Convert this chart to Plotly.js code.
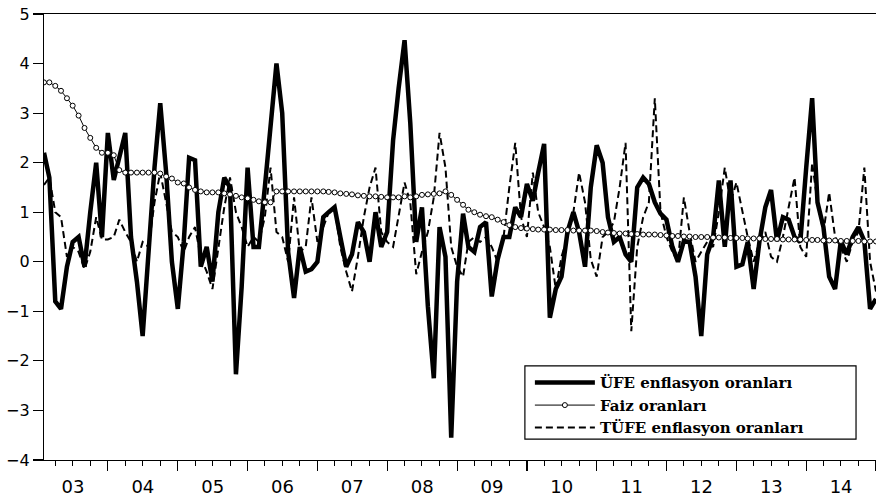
<!DOCTYPE html>
<html>
<head>
<meta charset="utf-8">
<script src="https://cdn.plot.ly/plotly-3.0.1.min.js"></script>
<style>html,body{margin:0;padding:0;background:#fff;}#chart{width:876px;height:499px;}</style>
</head>
<body>
<div id="chart"></div>
<script>
// Monthly observations, first month 2003-02
var startYear = 2003, startMonth = 2;
var seriesNames = ["ÜFE enflasyon oranları", "Faiz oranları", "TÜFE enflasyon oranları"];
var yearLabels = ["03","04","05","06","07","08","09","10","11","12","13","14"];

var ufe = [
 2.2, 1.7, -0.8, -0.95, -0.1, 0.4, 0.5, -0.1, 1.0, 2.0, 0.5,
 2.6, 1.65, 2.1, 2.6, 0.5, -0.4, -1.5, 0.3, 1.9, 3.2, 1.8, 0.0,
 -0.95, 0.4, 2.1, 2.05, -0.1, 0.3, -0.4, 1.0, 1.7, 1.5, -2.27, -0.5,
 1.9, 0.3, 0.3, 1.5, 2.7, 4.0, 3.0, 0.2, -0.73, 0.3, -0.2, -0.15,
 0.0, 0.9, 1.0, 1.1, 0.5, -0.1, 0.15, 0.8, 0.6, 0.0, 1.0, 0.3,
 0.6, 2.45, 3.5, 4.47, 2.8, 0.4, 1.1, -0.9, -2.35, 0.7, 0.1, -3.55,
 -0.4, 0.97, 0.3, 0.2, 0.7, 0.8, -0.7, 0.05, 0.5, 0.5, 1.1, 0.9,
 1.57, 1.23, 1.8, 2.38, -1.13, -0.55, -0.3, 0.6, 1.0, 0.6, -0.1, 1.5,
 2.35, 2.0, 0.9, 0.4, 0.5, 0.15, 0.0, 1.5, 1.7, 1.57, 1.2, 0.97,
 0.85, 0.3, 0.0, 0.42, 0.4, -0.3, -1.5, 0.15, 0.5, 1.64, 0.3, 1.64,
 -0.1, -0.05, 0.4, -0.55, 0.4, 1.1, 1.45, 0.42, 0.9, 0.85, 0.5, 0.4,
 1.9, 3.3, 1.2, 0.7, -0.3, -0.55, 0.42, 0.15, 0.5, 0.7, 0.42, -0.95,
 -0.75
];

var faiz = [
 3.62, 3.62, 3.55, 3.45, 3.3, 3.15, 2.95, 2.7, 2.5, 2.3, 2.2,
 2.2, 2.15, 1.85, 1.8, 1.8, 1.8, 1.8, 1.8, 1.8, 1.78, 1.72, 1.68,
 1.6, 1.58, 1.5, 1.45, 1.42, 1.4, 1.4, 1.4, 1.38, 1.36, 1.33, 1.3,
 1.28, 1.25, 1.22, 1.2, 1.2, 1.42, 1.42, 1.42, 1.42, 1.42, 1.42, 1.42,
 1.42, 1.42, 1.41, 1.4, 1.38, 1.37, 1.36, 1.34, 1.33, 1.32, 1.32, 1.31,
 1.3, 1.3, 1.3, 1.32, 1.3, 1.32, 1.35, 1.36, 1.37, 1.38, 1.42, 1.35,
 1.25, 1.15, 1.05, 1.0, 0.95, 0.92, 0.9, 0.85, 0.8, 0.74, 0.7, 0.68,
 0.67, 0.66, 0.65, 0.65, 0.65, 0.64, 0.64, 0.64, 0.63, 0.63, 0.63, 0.63,
 0.62, 0.6, 0.59, 0.58, 0.57, 0.57, 0.56, 0.56, 0.55, 0.55, 0.55, 0.54,
 0.53, 0.52, 0.52, 0.51, 0.51, 0.5, 0.5, 0.5, 0.49, 0.49, 0.49, 0.48,
 0.48, 0.48, 0.47, 0.47, 0.47, 0.46, 0.46, 0.46, 0.45, 0.45, 0.45, 0.45,
 0.44, 0.44, 0.44, 0.43, 0.43, 0.43, 0.42, 0.42, 0.42, 0.42, 0.41, 0.41,
 0.41
];

var tufe = [
 1.55, 1.7, 1.0, 0.9, 0.1, 0.3, 0.2, -0.15, 0.2, 0.9, 0.45,
 0.45, 0.5, 0.85, 0.6, 0.4, 0.0, 0.4, 0.3, 1.2, 1.8, 1.2, 0.6,
 0.5, 0.2, 0.5, 0.7, 0.1, -0.2, -0.55, 0.3, 1.1, 1.7, 1.0, 0.7,
 0.3, 0.5, 0.4, 0.9, 1.9, 0.6, 0.5, 0.0, 1.3, 0.2, 0.3, 1.3,
 0.4, 0.7, 1.0, 1.1, 0.3, -0.2, -0.6, 0.1, 0.9, 1.5, 1.9, 0.6,
 0.4, 0.3, 0.9, 1.6, 1.2, -0.25, 0.2, 0.6, 1.3, 2.6, 1.9, 0.3,
 -0.1, -0.3, 0.4, 0.5, 0.4, 0.5, 0.3, 0.0, 0.5, 1.5, 2.4, 0.9,
 0.5, 1.8, 1.0, 0.7, 0.3, -0.55, 0.1, 0.5, 1.0, 1.8, 1.2, 0.05,
 -0.3, 0.5, 0.6, 0.8, 1.5, 2.4, -1.4, 0.3, 0.9, 1.2, 3.3, 1.0,
 0.5, 0.2, 0.0, 1.3, 0.6, 0.0, 0.2, 0.4, 0.3, 1.0, 1.9, 1.2,
 1.6, 1.0, 0.5, 0.0, 0.4, 0.6, 0.1, 0.0, 0.5, 1.1, 1.7, 0.3,
 0.1, 2.0, 1.2, 0.6, 1.4, 0.5, 0.3, 0.0, 0.4, 0.6, 1.9, 0.0,
 -0.6
];

function pad(n){return (n<10?"0":"")+n;}
var dates = [];
for (var i = 0; i < ufe.length; i++) {
  var m = startMonth - 1 + i;
  var y = startYear + Math.floor(m / 12);
  dates.push(y + "-" + pad(m % 12 + 1) + "-01");
}

var traces = [
  {x: dates, y: ufe, name: seriesNames[0], type: "scatter", mode: "lines",
   line: {color: "#000", width: 4.5}, legendrank: 1},
  {x: dates, y: tufe, name: seriesNames[2], type: "scatter", mode: "lines",
   line: {color: "#000", width: 2, dash: "7px,4px"}, legendrank: 3},
  {x: dates, y: faiz, name: seriesNames[1], type: "scatter", mode: "lines+markers",
   line: {color: "#000", width: 1},
   marker: {symbol: "circle", size: 5, color: "#fff", line: {color: "#000", width: 1}},
   legendrank: 2}
];

var layout = {
  width: 876, height: 499,
  margin: {l: 44, r: 0, t: 14, b: 39, pad: 0},
  paper_bgcolor: "#fff", plot_bgcolor: "#fff",
  font: {family: "DejaVu Sans, Arial, sans-serif", color: "#000", size: 16},
  showlegend: true,
  xaxis: {
    type: "date",
    range: ["2003-02-01", "2015-01-01"],
    tick0: "2003-01-01", dtick: "M12",
    ticklabelmode: "period", tickformat: "%y",
    ticks: "outside", ticklen: 10, tickwidth: 1.2, tickcolor: "#000",
    minor: {dtick: "M3", ticks: "outside", ticklen: 5, tickwidth: 1, tickcolor: "#000", showgrid: false},
    showline: true, linecolor: "#000", linewidth: 1.2, mirror: true,
    showgrid: false, zeroline: false,
    tickfont: {family: "DejaVu Sans, Arial, sans-serif", size: 18, color: "#000"},
    automargin: false
  },
  yaxis: {
    range: [-4, 5], tick0: -4, dtick: 1,
    ticks: "outside", ticklen: 10, tickwidth: 1.2, tickcolor: "#000",
    showline: true, linecolor: "#000", linewidth: 1.2,
    showgrid: false, zeroline: false,
    tickfont: {family: "DejaVu Sans, Arial, sans-serif", size: 16, color: "#000"},
    automargin: false
  },
  legend: {
    x: 0.584, y: 0.21, xanchor: "left", yanchor: "top",
    bgcolor: "rgba(0,0,0,0)", borderwidth: 0,
    itemwidth: 60, tracegroupgap: 0,
    font: {family: "DejaVu Serif, Liberation Serif, serif", size: 15, color: "#000", weight: "bold"}
  },
  shapes: [{
    type: "rect", xref: "paper", yref: "paper",
    x0: 0.578, x1: 0.976, y0: 0.047, y1: 0.211,
    line: {color: "#000", width: 1.2}, fillcolor: "#fff", layer: "above"
  }]
};

Plotly.newPlot("chart", traces, layout, {staticPlot: true, displayModeBar: false});
</script>
</body>
</html>
